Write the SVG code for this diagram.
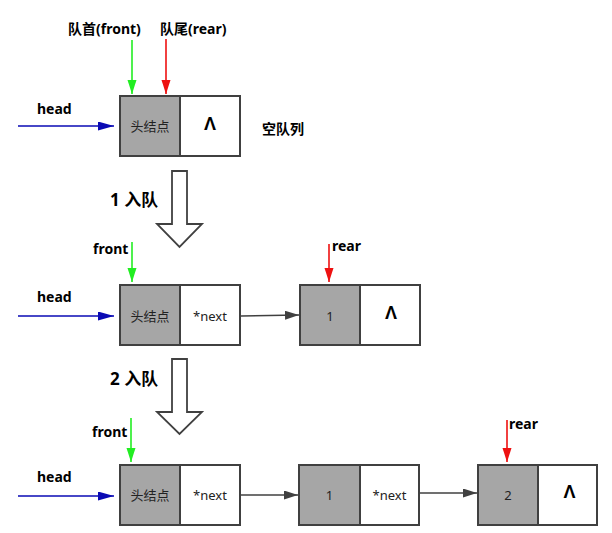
<svg xmlns="http://www.w3.org/2000/svg" width="612" height="533" viewBox="0 0 612 533">
<style>
  .lbl { font-family: "Noto Sans", "Noto Sans CJK SC", sans-serif; font-weight: bold; font-size: 14px; fill: #000; }
  .step { font-family: "Noto Sans", "Noto Sans CJK SC", sans-serif; font-weight: bold; font-size: 17px; fill: #000; }
  .cell { font-family: "Noto Sans", "Noto Sans CJK SC", sans-serif; font-size: 13px; fill: #222; text-anchor: middle; }
  .nul { font-family: "Liberation Sans", sans-serif; font-weight: bold; font-size: 18px; fill: #000; text-anchor: middle; }
  .data { fill: #a6a6a6; stroke: #404040; stroke-width: 2; }
  .ptr { fill: #ffffff; stroke: #404040; stroke-width: 2; }
  .green { stroke: #22ee22; stroke-width: 1.6; fill: none; }
  .red { stroke: #ee1111; stroke-width: 1.6; fill: none; }
  .blue { stroke: #0a0ab4; stroke-width: 1.6; fill: none; }
  .conn { stroke: #404040; stroke-width: 1.6; fill: none; }
  .hollow { fill: #ffffff; stroke: #404040; stroke-width: 1.8; }
</style>
<defs>
  <marker id="mg" markerUnits="userSpaceOnUse" markerWidth="15" markerHeight="10" refX="14" refY="4.5" orient="auto"><path d="M0,0 L14,4.5 L0,9 z" fill="#22ee22"/></marker>
  <marker id="mr" markerUnits="userSpaceOnUse" markerWidth="15" markerHeight="10" refX="14" refY="4.5" orient="auto"><path d="M0,0 L14,4.5 L0,9 z" fill="#ee1111"/></marker>
  <marker id="mb" markerUnits="userSpaceOnUse" markerWidth="17" markerHeight="10" refX="16" refY="4.5" orient="auto"><path d="M0,0 L16,4.5 L0,9 z" fill="#0a0ab4"/></marker>
  <marker id="mk" markerUnits="userSpaceOnUse" markerWidth="15" markerHeight="10" refX="14" refY="4.5" orient="auto"><path d="M0,0 L14,4.5 L0,9 z" fill="#404040"/></marker>
</defs>

<!-- Row 1: empty queue -->
<g id="row1-head-node">
  <rect class="data" x="120" y="96" width="60" height="60"/>
  <rect class="ptr" x="180" y="96" width="60" height="60"/>
  <text class="cell" x="150" y="131">头结点</text>
  <text class="nul" x="210" y="130">Λ</text>
</g>
<g id="row1-labels">
  <text class="lbl" x="68" y="34">队首(front)</text>
  <text class="lbl" x="160" y="34">队尾(rear)</text>
  <text class="lbl" x="37" y="114">head</text>
  <text class="lbl" x="262" y="134">空队列</text>
</g>

<!-- Step 1 -->
<g id="step1">
  <polygon class="hollow" points="172,171 187,171 187,224 202,224 179.5,247 157,224 172,224"/>
  <text class="step" x="110" y="206">1 入队</text>
</g>

<!-- Row 2 -->
<g id="row2-head-node">
  <rect class="data" x="120" y="285" width="60" height="60"/>
  <rect class="ptr" x="180" y="285" width="60" height="60"/>
  <text class="cell" x="150" y="321">头结点</text>
  <text class="cell" x="210" y="321">*next</text>
</g>
<g id="row2-node1">
  <rect class="data" x="300" y="285" width="60" height="60"/>
  <rect class="ptr" x="360" y="285" width="60" height="60"/>
  <text class="cell" x="330" y="321">1</text>
  <text class="nul" x="391" y="319">Λ</text>
</g>
<g id="row2-labels">
  <text class="lbl" x="93" y="254">front</text>
  <text class="lbl" x="332" y="251">rear</text>
  <text class="lbl" x="37" y="302">head</text>
</g>

<!-- Step 2 -->
<g id="step2">
  <polygon class="hollow" points="172,359 187,359 187,412 202,412 179.5,434 157,412 172,412"/>
  <text class="step" x="110" y="385">2 入队</text>
</g>

<!-- Row 3 -->
<g id="row3-head-node">
  <rect class="data" x="120" y="465" width="60" height="60"/>
  <rect class="ptr" x="180" y="465" width="60" height="60"/>
  <text class="cell" x="150" y="500">头结点</text>
  <text class="cell" x="210" y="500">*next</text>
</g>
<g id="row3-node1">
  <rect class="data" x="299" y="465" width="61" height="60"/>
  <rect class="ptr" x="360" y="465" width="59" height="60"/>
  <text class="cell" x="329.5" y="500">1</text>
  <text class="cell" x="389.5" y="500">*next</text>
</g>
<g id="row3-node2">
  <rect class="data" x="478" y="465" width="60" height="60"/>
  <rect class="ptr" x="538" y="465" width="59" height="60"/>
  <text class="cell" x="508" y="500">2</text>
  <text class="nul" x="569.5" y="498">Λ</text>
</g>
<g id="row3-labels">
  <text class="lbl" x="92" y="437">front</text>
  <text class="lbl" x="509" y="429">rear</text>
  <text class="lbl" x="37" y="482">head</text>
</g>

<!-- Connectors -->
<g id="connectors">
  <line class="green" x1="132" y1="40" x2="132" y2="94" marker-end="url(#mg)"/>
  <line class="red" x1="166" y1="39" x2="166" y2="94" marker-end="url(#mr)"/>
  <line class="blue" x1="18" y1="126" x2="114" y2="126" marker-end="url(#mb)"/>

  <line class="green" x1="132" y1="242" x2="132" y2="282" marker-end="url(#mg)"/>
  <line class="red" x1="329" y1="244" x2="329" y2="282" marker-end="url(#mr)"/>
  <line class="blue" x1="18" y1="316" x2="114" y2="316" marker-end="url(#mb)"/>
  <line class="conn" x1="241" y1="316" x2="299" y2="315" marker-end="url(#mk)"/>

  <line class="green" x1="131" y1="418" x2="131" y2="462" marker-end="url(#mg)"/>
  <line class="red" x1="507" y1="420" x2="507" y2="462" marker-end="url(#mr)"/>
  <line class="blue" x1="18" y1="496" x2="114" y2="496" marker-end="url(#mb)"/>
  <line class="conn" x1="241" y1="495" x2="298" y2="495" marker-end="url(#mk)"/>
  <line class="conn" x1="420" y1="493" x2="477" y2="493" marker-end="url(#mk)"/>
</g>
</svg>
